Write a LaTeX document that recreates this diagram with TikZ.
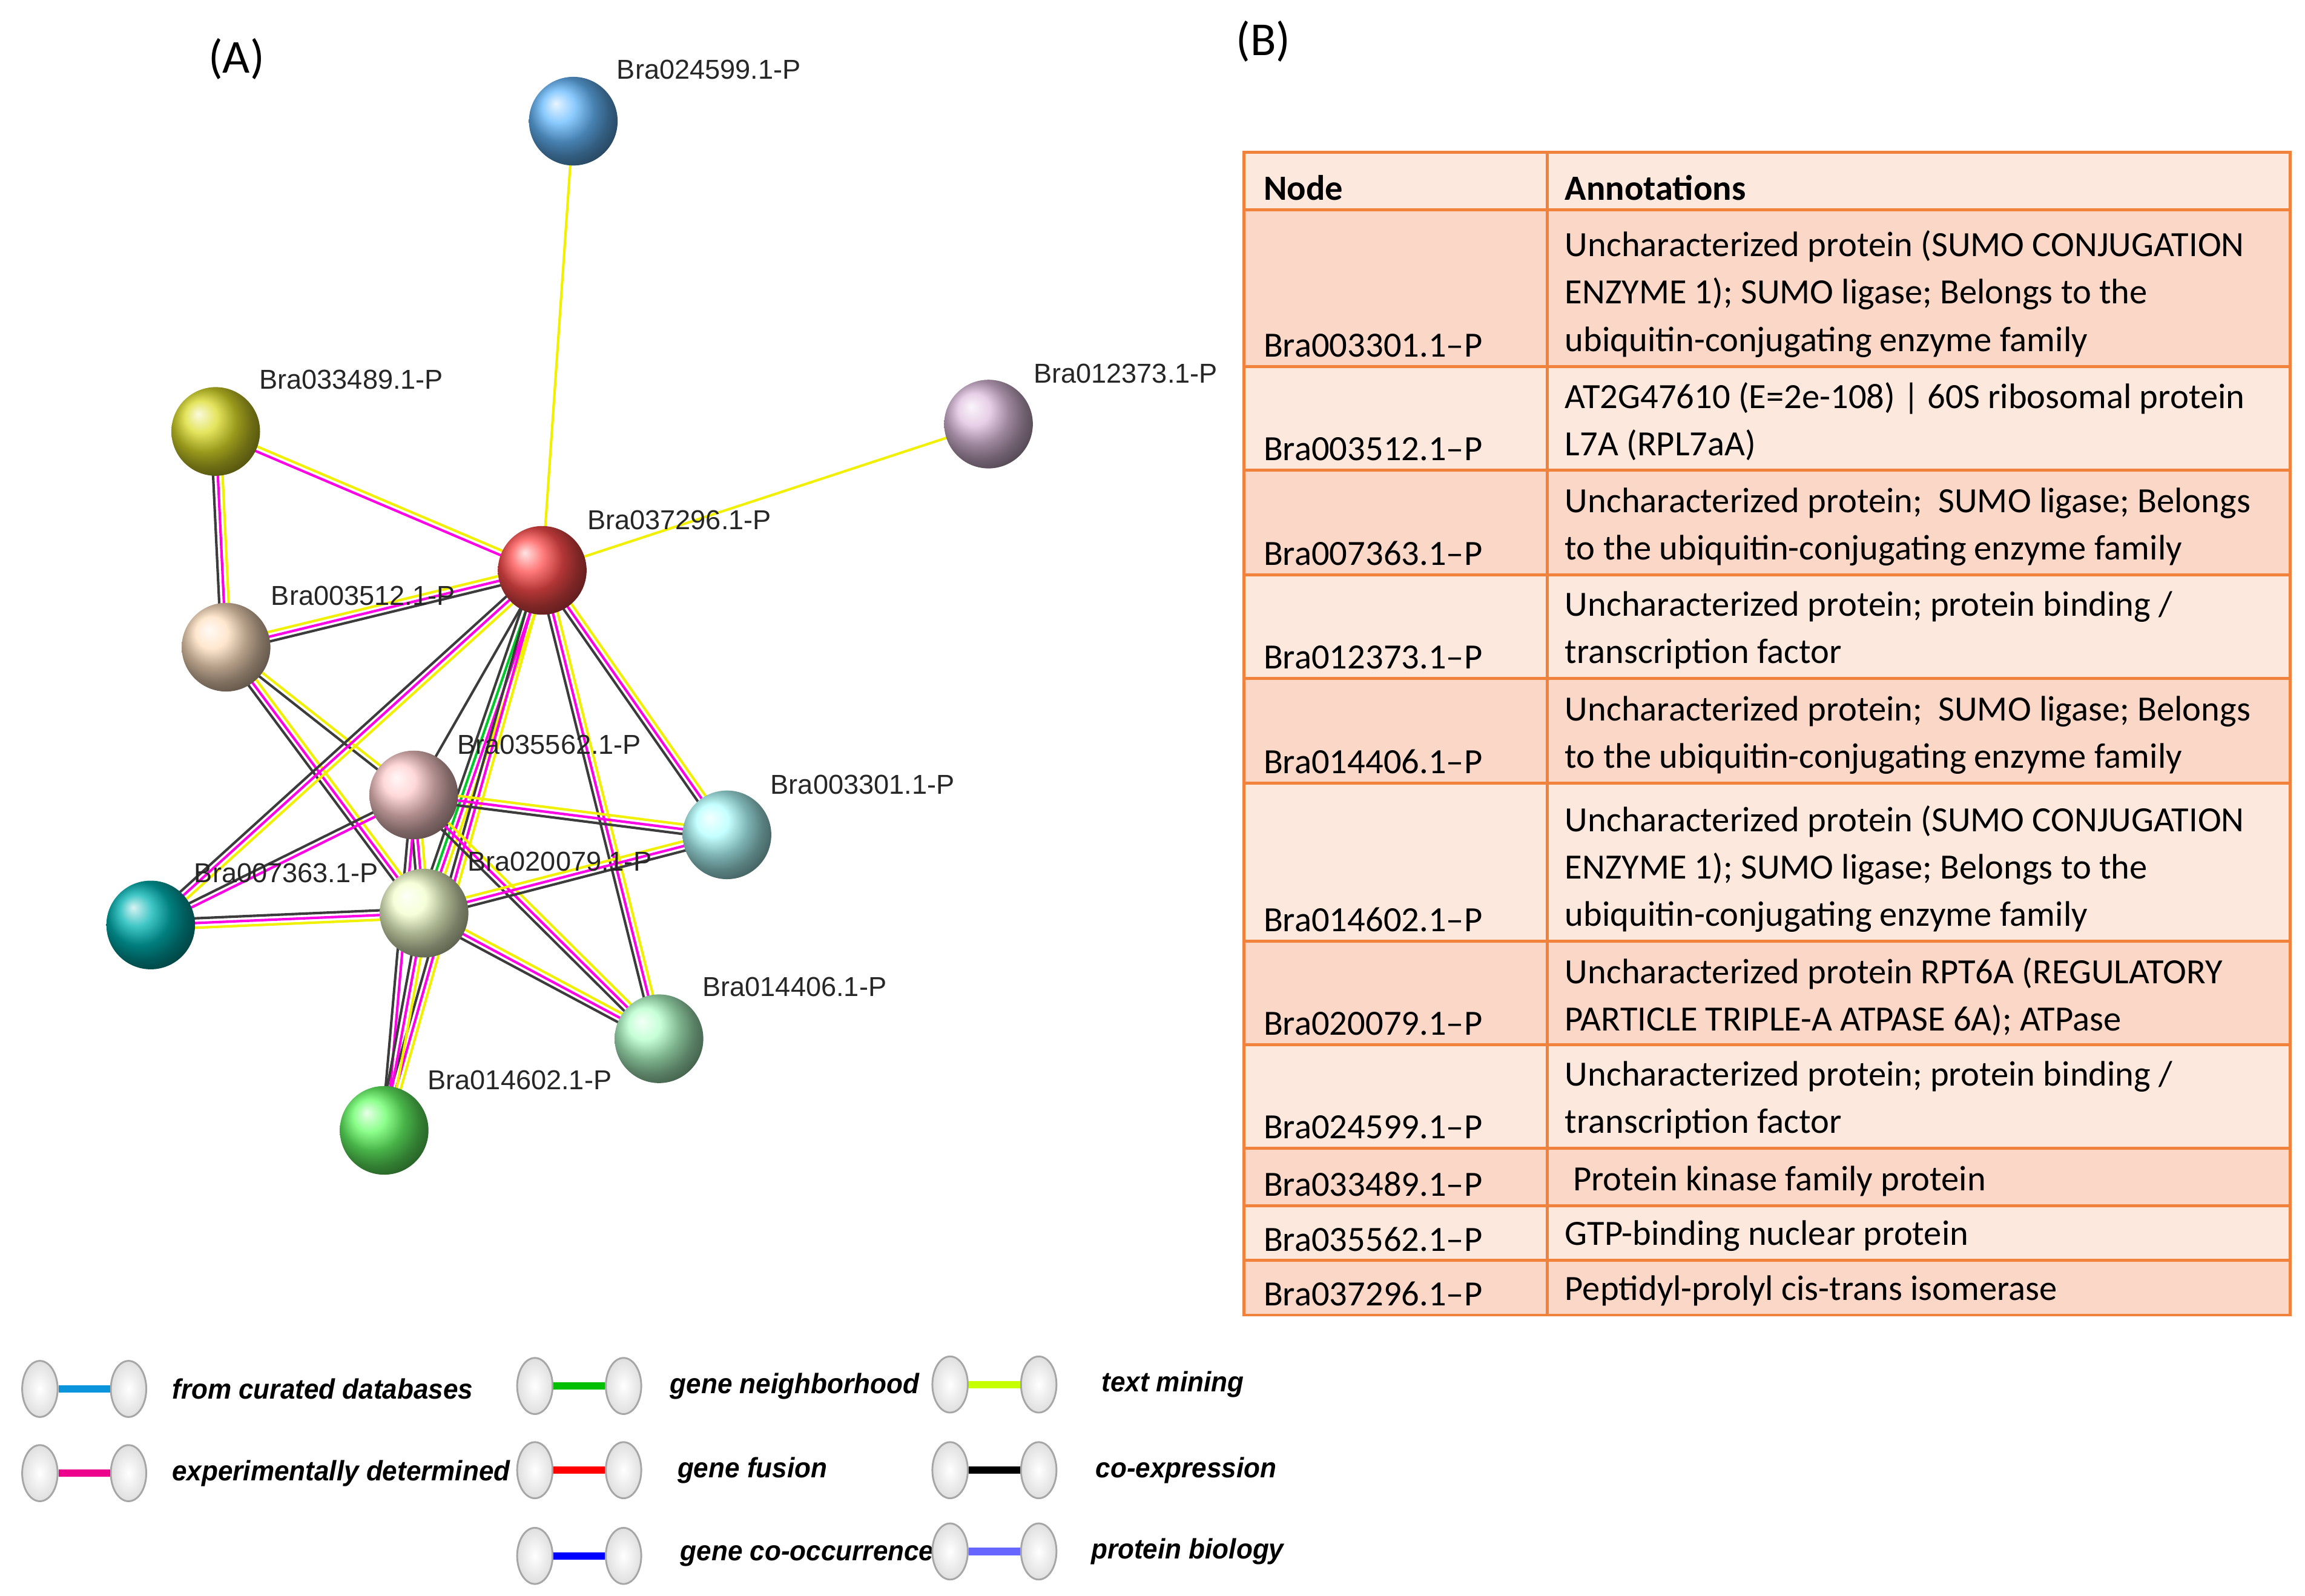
\documentclass[tikz,border=0pt]{standalone}
\usepackage{fontspec}
\setmainfont{Liberation Sans}
\newfontfamily\calfont{Carlito}
\usetikzlibrary{calc,shapes.geometric}
\pgfdeclarelayer{bg}\pgfsetlayers{bg,main}
\definecolor{ek}{RGB}{60,60,60}
\definecolor{em}{RGB}{255,0,230}
\definecolor{ey}{RGB}{240,240,0}
\definecolor{eg}{RGB}{0,200,40}
\definecolor{tb}{RGB}{240,130,60}
\definecolor{fa}{RGB}{251,215,200}
\definecolor{fb}{RGB}{253,232,222}
\tikzset{
 ball/.style={circle,minimum size=60pt,inner sep=0,ball color=#1,draw=none},
 lab/.style={anchor=west,font=\fontsize{18.5}{18.5}\selectfont,text=black!85},
 cell/.style={font=\calfont\fontsize{24}{32}\selectfont,align=left,anchor=south west,inner sep=0},
 lball/.style={ellipse,minimum width=24pt,minimum height=38pt,inner sep=0,draw=gray!70,line width=1.2pt,shade,inner color=white,outer color=gray!25},
 lt/.style={anchor=west,font=\bfseries\itshape\fontsize{19}{19}\selectfont},
}
\newcommand\medge[3]{%
 \foreach \c [count=\i] in {#3}{\xdef\nn{\i}}%
 \foreach \c [count=\i] in {#3}{%
  \pgfmathsetmacro\off{(\i-(\nn+1)/2)*3.2}%
  \draw[\c,line width=1.7pt] ($(#1)!\off pt!90:(#2)$) -- ($(#2)!\off pt!-90:(#1)$);}}
\begin{document}
\begin{tikzpicture}[x=1pt,y=-1pt]
\useasboundingbox (0,0) rectangle (1560,1080);
\node[ball={blue!45!cyan!60}] (n24599) at (388,82) {};
\node[ball={yellow!60!olive!70}] (n33489) at (146,292) {};
\node[ball={violet!25}] (n12373) at (669,287) {};
\node[ball={red!70}] (n37296) at (367,386) {};
\node[ball={orange!25}] (n03512) at (153,438) {};
\node[ball={red!20}] (n35562) at (280,538) {};
\node[ball={cyan!30}] (n03301) at (492,565) {};
\node[ball={teal!60!cyan}] (n07363) at (102,626) {};
\node[ball={lime!20}] (n20079) at (287,618) {};
\node[ball={cyan!30!green!30}] (n14406) at (446,703) {};
\node[ball={green!60}] (n14602) at (260,765) {};
\begin{pgfonlayer}{bg}
\medge{n24599}{n37296}{ey}
\medge{n12373}{n37296}{ey}
\medge{n33489}{n37296}{em,ey}
\medge{n33489}{n03512}{ek,em,ey}
\medge{n03512}{n37296}{ek,em,ey}
\medge{n03512}{n20079}{ek,em,ey}
\medge{n03512}{n35562}{ek,ey}
\medge{n37296}{n07363}{ek,em,ey}
\medge{n37296}{n35562}{ek}
\medge{n37296}{n20079}{ek,eg,em,ey}
\medge{n37296}{n14602}{ek,em,ey}
\medge{n37296}{n14406}{ek,em,ey}
\medge{n37296}{n03301}{ek,em,ey}
\medge{n35562}{n03301}{ek,em,ey}
\medge{n35562}{n07363}{ek,em}
\medge{n35562}{n20079}{ek,em,ey}
\medge{n35562}{n14406}{ek,em,ey}
\medge{n35562}{n14602}{ek,em}
\medge{n20079}{n07363}{ek,em,ey}
\medge{n20079}{n03301}{ek,em,ey}
\medge{n20079}{n14406}{ek,em,ey}
\medge{n20079}{n14602}{ek,em,ey}
\end{pgfonlayer}
\node[lab] (l1) at (414,47) {Bra024599.1-P};
\node[lab] (l2) at (172,257) {Bra033489.1-P};
\node[lab] (l3) at (696,253) {Bra012373.1-P};
\node[lab] (l4) at (394,352) {Bra037296.1-P};
\node[lab] (l5) at (180,403) {Bra003512.1-P};
\node[lab] (l6) at (306,504) {Bra035562.1-P};
\node[lab] (l7) at (518,531) {Bra003301.1-P};
\node[lab] (l8) at (128,591) {Bra007363.1-P};
\node[lab] (l9) at (313,583) {Bra020079.1-P};
\node[lab] (l10) at (472,668) {Bra014406.1-P};
\node[lab] (l11) at (286,731) {Bra014602.1-P};
\node[font=\calfont\fontsize{32}{32}\selectfont] (A) at (160,40) {(A)};
\node[font=\calfont\fontsize{32}{32}\selectfont] (B) at (855,28) {(B)};
\def\rows{103/142/fb,142/248/fa,248/318/fb,318/389/fa,389/459/fb,459/530/fa,530/637/fb,637/707/fa,707/777/fb,777/816/fa,816/853/fb,853/890/fa}
\foreach \a/\b/\f in \rows {\fill[\f] (842,\a) rectangle (1550,\b);}
\foreach \a/\b/\f in \rows {\draw[tb,line width=2pt] (842,\b) -- (1550,\b);}
\draw[tb,line width=2pt] (842,103) rectangle (1550,890) (1047,103) -- (1047,890);
\node[cell,font=\calfont\bfseries\fontsize{24}{32}\selectfont] (h1) at (855,136) {Node};
\node[cell,font=\calfont\bfseries\fontsize{24}{32}\selectfont] (h2) at (1059,136) {Annotations};
\foreach \y/\n/\t [count=\k] in {
 242/Bra003301.1/{Uncharacterized protein (SUMO CONJUGATION\\ENZYME 1); SUMO ligase; Belongs to the\\ubiquitin-conjugating enzyme family},
 312/Bra003512.1/{AT2G47610 (E=2e-108) | 60S ribosomal protein\\L7A (RPL7aA)},
 383/Bra007363.1/{Uncharacterized protein;~ SUMO ligase; Belongs\\to the ubiquitin-conjugating enzyme family},
 453/Bra012373.1/{Uncharacterized protein; protein binding /\\transcription factor},
 524/Bra014406.1/{Uncharacterized protein;~ SUMO ligase; Belongs\\to the ubiquitin-conjugating enzyme family},
 631/Bra014602.1/{Uncharacterized protein (SUMO CONJUGATION\\ENZYME 1); SUMO ligase; Belongs to the\\ubiquitin-conjugating enzyme family},
 701/Bra020079.1/{Uncharacterized protein RPT6A (REGULATORY\\PARTICLE TRIPLE-A ATPASE 6A); ATPase},
 771/Bra024599.1/{Uncharacterized protein; protein binding /\\transcription factor},
 810/Bra033489.1/{\ Protein kinase family protein},
 847/Bra035562.1/{GTP-binding nuclear protein},
 884/Bra037296.1/{Peptidyl-prolyl cis-trans isomerase}}
 {\node[cell] (c\k) at (855,\y) {\n\textendash P};
  \node[cell] (d\k) at (1059,\y) {\t};}
\foreach \x/\y/\col/\tx/\t [count=\k] in {
 27/940/{cyan!80!blue}/113/from curated databases,
 27/997/{magenta}/113/experimentally determined,
 362/938/{green!75!black}/450/gene neighborhood,
 362/995/{red}/455/gene fusion,
 362/1053/{blue}/457/gene co-occurrence,
 643/937/{lime!90!yellow}/742/text mining,
 643/995/{black}/738/co-expression,
 643/1050/{blue!60}/735/protein biology}
 {\node[lball] (la\k) at (\x,\y) {};
  \node[lball] (lb\k) at (\x+60,\y) {};
  \draw[\col,line width=5pt] (la\k) -- (lb\k);
  \node[lt] (lt\k) at (\tx,\y) {\scalebox{0.95}[1]{\t}};}
\end{tikzpicture}
\end{document}
